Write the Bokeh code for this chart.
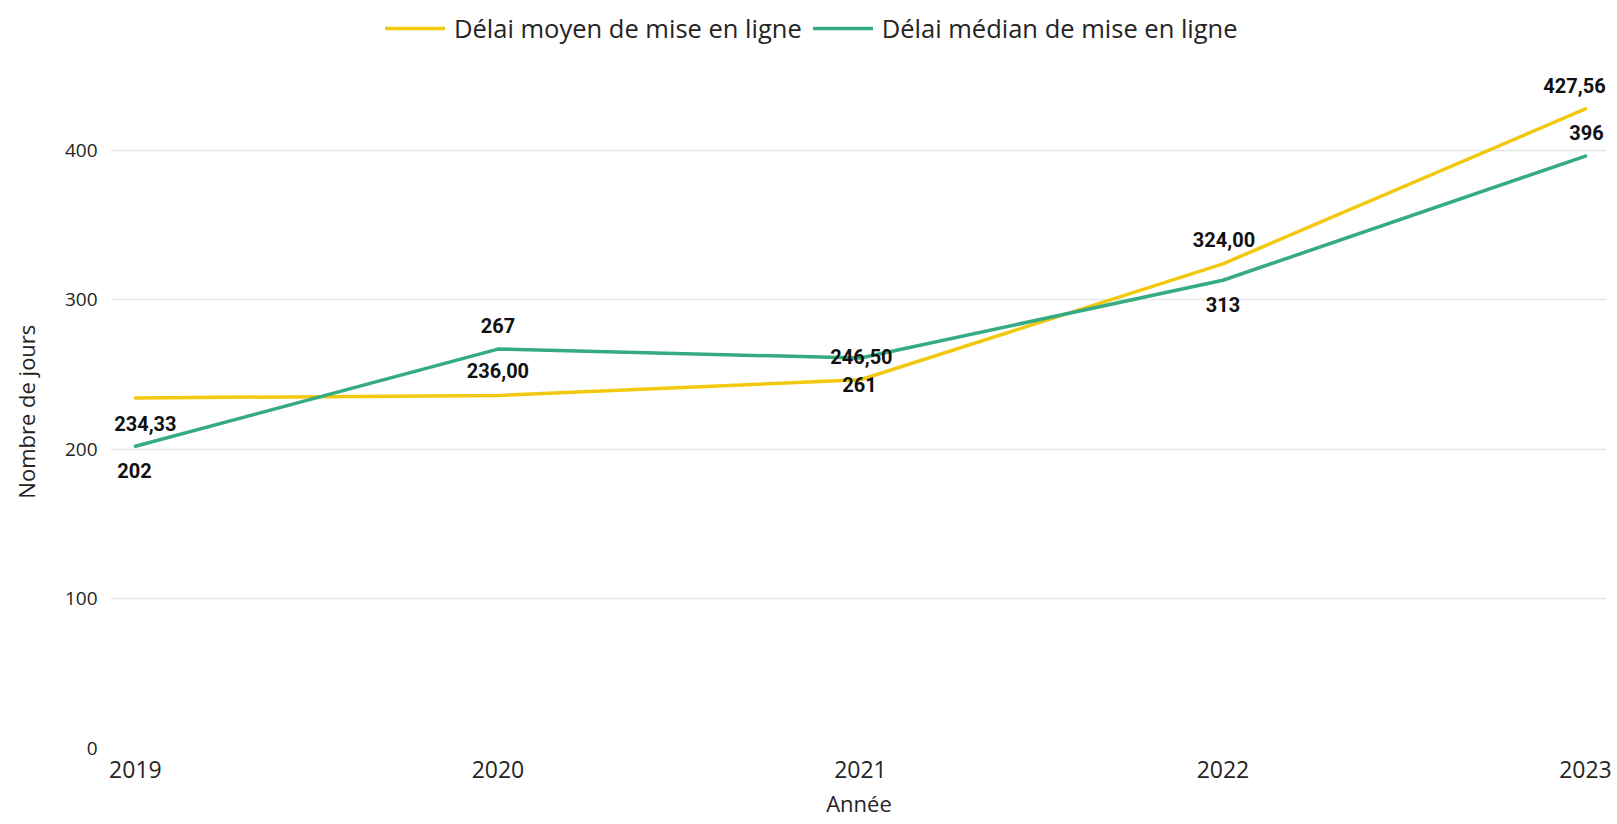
from bokeh.plotting import figure
from bokeh.models import (ColumnDataSource, Legend, LegendItem, FixedTicker,
                          Range1d)
from bokeh.core.properties import value
from bokeh.embed import file_html
from bokeh.resources import INLINE

# ---- data ----
years = [2019, 2020, 2021, 2022, 2023]
mean_delay = [234.33, 236.00, 246.50, 324.00, 427.56]
median_delay = [202, 267, 261, 313, 396]
mean_labels = ["234,33", "236,00", "246,50", "324,00", "427,56"]
median_labels = ["202", "267", "261", "313", "396"]
y_ticks = [0, 100, 200, 300, 400]

# ---- label placement (screen px) ----
mean_dx = [10, 0, 1, 1, -11]
mean_dy = [26, -25, -23, -24, -23]
median_dx = [-1, 0, -1, 0, 1]
median_dy = [24, -24, 26, 24, -24]

YELLOW = "#F2C80F"
GREEN = "#35AB82"
TXT = "#252423"

p = figure(width=1616, height=824, output_backend="svg", toolbar_location=None,
           x_range=Range1d(2018.934, 2023.058), y_range=Range1d(0, 500),
           min_border_left=111, min_border_right=10, min_border_top=0,
           min_border_bottom=76)
p.outline_line_color = None
p.background_fill_color = "white"
p.border_fill_color = "white"

src_mean = ColumnDataSource(dict(x=years, y=mean_delay, t=mean_labels,
                                 dx=mean_dx, dy=mean_dy))
src_med = ColumnDataSource(dict(x=years, y=median_delay, t=median_labels,
                                dx=median_dx, dy=median_dy))

r_mean = p.line("x", "y", source=src_mean, line_color=YELLOW, line_width=3.5,
                line_join="round", line_cap="round")
r_med = p.line("x", "y", source=src_med, line_color=GREEN, line_width=3.5,
               line_join="round", line_cap="round")

for src in (src_mean, src_med):
    p.text("x", "y", text="t", source=src, x_offset="dx", y_offset="dy",
           text_align="center", text_baseline="middle",
           text_font=value("Roboto"), text_font_style="bold",
           text_font_size="20px", text_color="#111111")

# axes
p.xaxis.ticker = FixedTicker(ticks=years)
p.yaxis.ticker = FixedTicker(ticks=y_ticks)
for ax in (p.xaxis[0], p.yaxis[0]):
    ax.axis_line_color = None
    ax.major_tick_line_color = None
    ax.minor_tick_line_color = None
    ax.major_label_text_font = "Open Sans"
    ax.major_label_text_color = TXT
    ax.axis_label_text_font = "Open Sans"
    ax.axis_label_text_font_style = "normal"
    ax.axis_label_text_color = TXT
    ax.axis_label_text_font_size = "22px"

p.xaxis.axis_label = "Année"
# trailing no-break spaces shift the centred title down to the grid's middle
p.yaxis.axis_label = "Nombre de jours" + "\u00a0" * 13
p.xaxis.major_label_text_font_size = "23px"
p.yaxis.major_label_text_font_size = "19px"
p.xaxis.major_label_standoff = 6
p.xaxis.axis_label_standoff = 7
p.yaxis.major_label_standoff = 8
p.yaxis.axis_label_standoff = 21

p.xgrid.grid_line_color = None
p.ygrid.ticker = FixedTicker(ticks=y_ticks)
p.ygrid.grid_line_color = "#E6E6E6"
p.ygrid.grid_line_width = 1.5

legend = Legend(items=[
    LegendItem(label="Délai moyen de mise en ligne", renderers=[r_mean]),
    LegendItem(label="Délai médian de mise en ligne", renderers=[r_med]),
], orientation="horizontal", location=(274, 703))
legend.label_text_font = "Open Sans"
legend.label_text_font_size = "25.5px"
legend.label_text_color = TXT
legend.glyph_width = 60
legend.glyph_height = 24
legend.label_standoff = 9
legend.spacing = 11
legend.padding = 0
legend.margin = 0
legend.border_line_alpha = 0
legend.background_fill_alpha = 0
p.add_layout(legend, "center")

open("out.html", "w").write(file_html(p, INLINE))
